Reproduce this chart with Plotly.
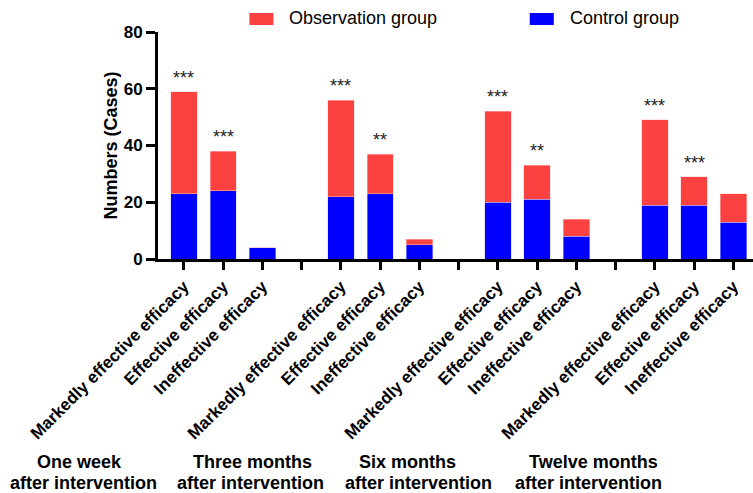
import plotly.graph_objects as go

# ---- data -------------------------------------------------------------
groups = ["One week", "Three months", "Six months", "Twelve months"]
outcomes = ["Markedly effective efficacy", "Effective efficacy", "Ineffective efficacy"]

control_one_week = [23, 24, 4]
control_three_months = [22, 23, 5]
control_six_months = [20, 21, 8]
control_twelve_months = [19, 19, 13]

observation_one_week = [36, 14, 0]
observation_three_months = [34, 14, 2]
observation_six_months = [32, 12, 6]
observation_twelve_months = [30, 10, 10]

stars_one_week = ["***", "***", ""]
stars_three_months = ["***", "**", ""]
stars_six_months = ["***", "**", ""]
stars_twelve_months = ["***", "***", ""]

y_ticks = [0, 20, 40, 60, 80]

# ---- layout of the category slots --------------------------------------
control = [control_one_week, control_three_months, control_six_months, control_twelve_months]
observation = [observation_one_week, observation_three_months,
               observation_six_months, observation_twelve_months]
stars = [stars_one_week, stars_three_months, stars_six_months, stars_twelve_months]

slot = len(outcomes) + 1          # one empty slot between time points
xs, ctrl, obs, sig = [], [], [], []
for g in range(len(groups)):
    for k in range(len(outcomes)):
        xs.append(g * slot + k)
        ctrl.append(control[g][k])
        obs.append(observation[g][k])
        sig.append(stars[g][k])

n_slots = len(groups) * slot - 1
tickvals = list(range(n_slots))
ticktext = []
for t in tickvals:
    ticktext.append(outcomes[t % slot] if t % slot < len(outcomes) else "")

RED = "#FC4141"
BLUE = "#0000FF"
FONT = "Arial, Liberation Sans, sans-serif"

fig = go.Figure()
fig.add_trace(go.Bar(x=xs, y=ctrl, name="Control group",
                     marker=dict(color=BLUE, line=dict(color="rgba(200,200,255,0.6)", width=0.8)),
                     showlegend=False))
fig.add_trace(go.Bar(x=xs, y=obs, name="Observation group",
                     marker=dict(color=RED, line=dict(color="rgba(255,200,200,0.6)", width=0.8)),
                     showlegend=False))

annotations = []
# significance marks above each stacked bar
for x, c, o, s in zip(xs, ctrl, obs, sig):
    if s:
        annotations.append(dict(x=x, y=c + o, xref="x", yref="y", text=s,
                                showarrow=False, yanchor="bottom", yshift=2,
                                font=dict(family=FONT, size=18, color="#222222")))

# time-point labels under the rotated category labels (paper coordinates)
group_line1_x = [-0.132, 0.159, 0.4197, 0.7325]
group_line2_x = [-0.1253, 0.1556, 0.4382, 0.7241]
for g, name in enumerate(groups):
    annotations.append(dict(x=group_line1_x[g], y=-0.894, xref="paper", yref="paper",
                            text="<b>%s</b>" % name, showarrow=False,
                            xanchor="center", yanchor="middle",
                            font=dict(family=FONT, size=18, color="black")))
    annotations.append(dict(x=group_line2_x[g], y=-0.987, xref="paper", yref="paper",
                            text="<b>after intervention</b>", showarrow=False,
                            xanchor="center", yanchor="middle",
                            font=dict(family=FONT, size=18, color="black")))

# legend drawn as keys + labels along the top
legend_items = [("Observation group", RED, 0.1536), ("Control group", BLUE, 0.6248)]
shapes = []
for label, color, x0 in legend_items:
    shapes.append(dict(type="rect", xref="paper", yref="paper",
                       x0=x0, x1=x0 + 0.0404, y0=1.0308, y1=1.0837,
                       fillcolor=color, line=dict(width=0)))
    annotations.append(dict(x=x0 + 0.0640, y=1.0617, xref="paper", yref="paper",
                            text=label, showarrow=False, xanchor="left", yanchor="middle",
                            font=dict(family=FONT, size=18, color="black")))

fig.update_layout(
    width=753, height=493,
    margin=dict(l=158, r=0, t=32, b=234),
    paper_bgcolor="white", plot_bgcolor="white",
    barmode="stack", bargap=0.33,
    annotations=annotations, shapes=shapes,
    showlegend=False,
)
fig.update_xaxes(
    range=[-0.66, 14.5], tickmode="array", tickvals=tickvals, ticktext=ticktext,
    tickangle=-45, ticks="outside", ticklen=8, tickwidth=2.5, tickcolor="black",
    showline=True, linecolor="black", linewidth=3, showgrid=False, zeroline=False,
    tickfont=dict(family=FONT, size=17, color="black", weight="bold"),
)
fig.update_yaxes(
    range=[0, 80], tickvals=y_ticks, ticks="outside", ticklen=9, tickwidth=2.5,
    tickcolor="black", showline=True, linecolor="black", linewidth=3,
    showgrid=False, zeroline=False,
    tickfont=dict(family=FONT, size=17, color="black", weight="bold"),
    title=dict(text="<b>Numbers (Cases)</b>", standoff=2,
               font=dict(family=FONT, size=18, color="black")),
)

fig.write_html("out.html")
